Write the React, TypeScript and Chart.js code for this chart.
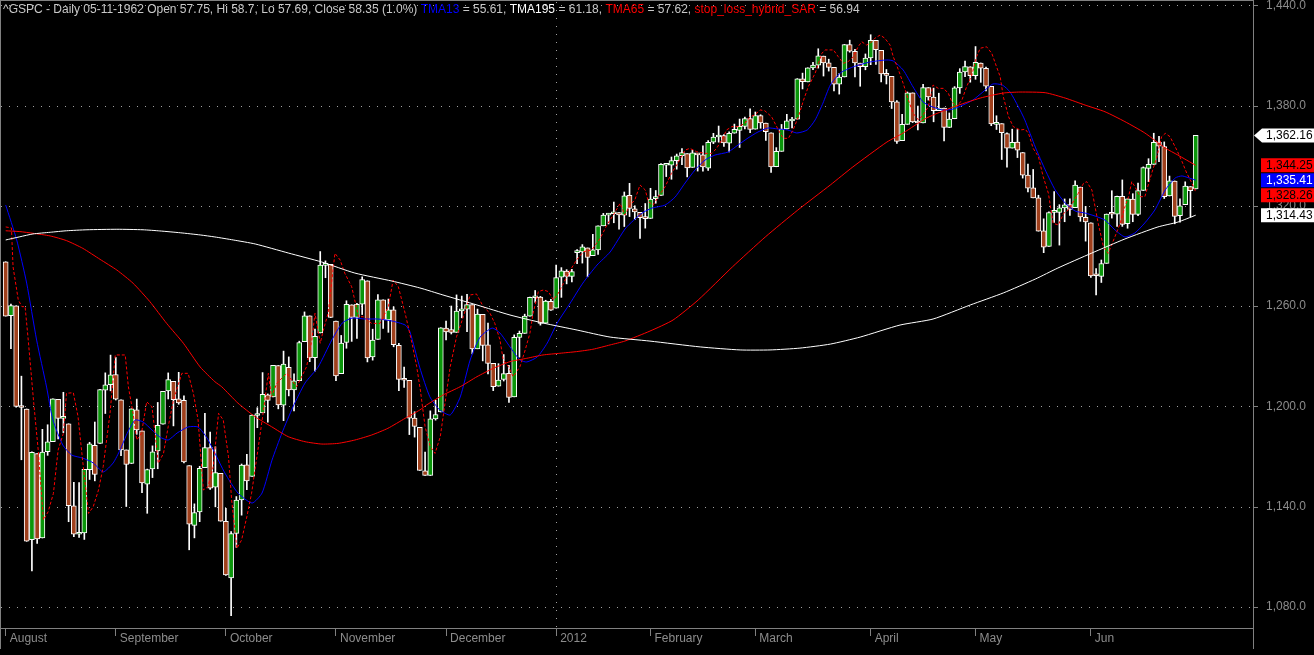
import React, { useEffect, useRef } from 'react';
import { Chart, registerables } from 'chart.js';

Chart.register(...registerables);

// ---------- DATA (bar index 0 = first visible day) ----------
const OPEN = [1286.56,1254.25,1260.23,1200.28,1198.48,1120.23,1171.77,1121.30,1172.87,1178.86,1204.22,1192.89,1189.62,1140.47,1123.55,1124.36,1162.16,1176.69,1177.91,1209.76,1213.00,
1219.12,1203.90,1173.97,1165.85,1197.98,1185.37,1153.50,1162.59,1173.32,1189.44,1209.21,1214.99,1204.50,1203.63,1164.55,1128.82,1136.91,1163.32,1175.39,1151.74,1159.93,
1131.21,1097.42,1124.03,1144.11,1165.03,1158.15,1194.60,1196.19,1206.96,1205.65,1224.47,1200.75,1223.46,1209.92,1215.39,1238.72,1254.19,1229.17,1243.97,1284.39,1284.96,
1251.00,1219.62,1238.25,1260.82,1253.21,1261.12,1275.18,1229.59,1240.12,1263.85,1251.70,1257.81,1236.56,1216.19,1215.62,1192.98,1187.48,1161.41,1158.67,1192.56,1196.72,
1246.91,1246.03,1244.33,1257.19,1258.14,1260.87,1234.48,1255.05,1236.83,1225.73,1212.12,1216.09,1219.74,1205.72,1241.25,1243.72,1254.00,1265.02,1265.38,1249.75,1262.82,
1258.86,1277.30,1280.93,1277.83,1292.02,1292.48,1294.82,1290.22,1293.65,1308.07,1314.49,1315.29,1315.96,1314.40,1326.28,1318.25,1316.16,1313.53,
1312.45,1324.24,1326.21,1344.32,1344.33,1347.04,1349.97,1351.21,1343.06,1351.30,1350.52,1342.61,1358.06,1361.22,1362.11,1357.53,1363.46,1365.20,1367.56,1372.20,
1365.90,1374.09,1369.59,1363.63,1343.39,1352.65,1365.97,1370.78,1371.92,1395.95,1394.17,1402.55,1404.17,1409.59,1405.52,1402.89,1392.78,1397.11,1416.55,1412.52,1405.39,1403.31,
1408.47,1418.98,1413.09,1398.79,1397.45,1382.18,1358.98,1368.77,1387.61,1370.27,1369.57,1390.78,1385.08,1376.96,1378.53,1366.97,1372.11,1390.64,1400.19,1403.26,
1397.86,1405.50,1402.32,1391.51,1368.79,1369.16,1363.20,1354.58,1358.11,1351.93,1338.36,1330.78,1324.82,1305.05,1295.73,1316.09,1316.02,1318.72,1320.81,1318.90,1331.25,1313.09,
1309.87,1278.29,1277.82,1285.61,1316.15,1314.99,1325.72,1309.40,1324.02,1314.88,1329.19,1342.42,1344.83,1357.94,1355.43,1325.92,1334.90,1314.09,1320.71,1331.52,1330.12];

const HIGH = [1286.58,1261.20,1260.23,1218.11,1198.48,1172.88,1171.77,1186.29,1189.04,1204.49,1204.22,1208.47,1189.62,1154.54,1154.45,1162.35,1178.56,1190.68,1210.28,1220.10,1230.71,
1229.29,1203.90,1173.97,1198.62,1204.40,1185.37,1162.52,1176.41,1202.38,1209.11,1220.06,1214.99,1220.39,1206.30,1164.55,1141.72,1164.19,1195.86,1184.71,1175.87,1159.93,
1138.99,1125.12,1146.07,1165.55,1171.40,1194.91,1199.24,1220.25,1207.46,1224.61,1224.47,1233.10,1229.64,1219.53,1239.03,1256.55,1254.19,1246.28,1292.66,1287.08,1284.96,
1251.00,1242.48,1263.21,1260.82,1261.70,1277.55,1275.18,1246.22,1266.98,1263.85,1264.25,1259.61,1237.73,1223.51,1215.62,1196.81,1187.48,1172.66,1197.35,1203.67,1247.11,
1251.09,1260.08,1266.73,1266.03,1267.06,1260.87,1258.25,1255.05,1249.86,1225.73,1225.60,1231.04,1224.57,1242.82,1245.09,1255.22,1265.42,1269.37,1265.85,1263.54,1264.12,
1284.62,1283.05,1281.84,1281.99,1293.80,1296.82,1294.82,1303.00,1308.11,1315.49,1315.38,1322.28,1315.96,1328.30,1333.47,1320.06,1316.16,1321.41,
1330.52,1329.19,1345.34,1344.36,1349.24,1351.00,1354.32,1351.21,1353.35,1351.30,1355.87,1359.02,1363.40,1367.76,1362.70,1364.24,1368.92,1371.94,1373.09,1378.04,
1376.17,1374.53,1369.59,1363.63,1354.85,1368.72,1374.76,1373.04,1396.13,1399.42,1402.63,1405.88,1414.00,1409.59,1407.75,1402.89,1399.18,1416.58,1419.15,1413.65,1405.39,1410.89,
1422.38,1419.00,1413.09,1401.60,1397.45,1383.01,1374.71,1388.13,1387.61,1379.66,1392.76,1390.78,1390.46,1387.40,1378.53,1375.57,1391.37,1402.09,1406.64,1403.26,
1415.32,1405.50,1403.07,1391.51,1373.91,1369.16,1363.73,1365.88,1365.66,1351.93,1344.94,1341.78,1326.36,1312.24,1316.39,1328.49,1320.71,1324.14,1324.20,1334.93,1331.25,1319.74,
1309.87,1282.55,1287.62,1315.13,1329.05,1325.81,1335.52,1324.31,1327.28,1333.68,1343.32,1348.22,1363.46,1361.57,1358.27,1337.82,1334.90,1324.24,1334.40,1331.52,1362.17];

const LOW = [1254.03,1234.56,1199.54,1168.09,1119.28,1101.54,1118.01,1121.30,1170.74,1178.86,1180.53,1184.36,1131.03,1122.05,1121.70,1120.43,1156.30,1155.47,1177.91,1195.77,1209.35,
1203.85,1170.56,1140.13,1165.85,1183.34,1148.37,1136.07,1157.44,1162.73,1189.44,1204.46,1188.36,1201.29,1166.21,1114.22,1121.36,1131.07,1163.32,1150.40,1139.93,1131.34,
1098.92,1074.77,1115.68,1134.95,1150.26,1158.15,1187.30,1196.19,1190.58,1205.65,1198.55,1191.48,1206.31,1197.34,1215.39,1238.72,1226.79,1221.06,1243.97,1277.01,1253.16,
1215.42,1219.62,1234.81,1238.92,1240.75,1254.99,1226.64,1227.70,1240.12,1246.68,1244.34,1235.67,1209.43,1211.36,1183.16,1181.65,1161.79,1158.66,1158.67,1191.80,1196.72,
1239.73,1243.35,1244.33,1253.03,1244.80,1231.47,1234.48,1227.25,1219.43,1209.47,1212.12,1215.20,1202.37,1205.72,1229.51,1243.72,1254.00,1262.30,1248.64,1249.75,1257.46,
1258.86,1265.26,1273.34,1274.55,1285.41,1285.77,1277.58,1290.22,1290.99,1308.07,1309.17,1309.89,1306.06,1307.65,1313.60,1311.72,1300.49,1306.69,
1312.45,1321.57,1326.21,1337.52,1335.92,1341.95,1344.63,1337.35,1343.06,1340.83,1340.80,1341.22,1357.24,1358.11,1355.53,1352.28,1363.46,1354.92,1365.97,1363.81,
1365.90,1366.42,1359.13,1340.03,1343.39,1352.65,1365.97,1366.69,1371.92,1389.97,1394.17,1401.47,1402.43,1397.68,1400.64,1388.73,1386.87,1397.11,1411.95,1397.20,1391.56,1401.42,
1404.46,1404.62,1394.09,1392.92,1378.24,1357.38,1358.98,1368.77,1369.85,1365.38,1369.57,1383.29,1370.30,1376.96,1358.79,1366.82,1372.11,1387.28,1397.31,1394.00,
1395.73,1393.92,1388.71,1367.96,1365.69,1347.75,1343.13,1354.58,1348.89,1336.61,1328.41,1324.79,1304.86,1291.98,1295.73,1310.04,1296.53,1310.50,1314.23,1318.90,1310.76,1298.90,
1277.25,1266.74,1274.16,1285.61,1312.68,1307.77,1307.73,1306.62,1310.51,1314.14,1329.19,1334.46,1344.83,1346.45,1324.41,1325.92,1309.27,1310.30,1320.71,1313.29,1330.12];

const CLOSE = [1254.05,1260.34,1200.07,1199.38,1119.46,1172.53,1120.76,1172.64,1178.81,1204.49,1192.76,1193.89,1140.65,1123.53,1123.82,1162.35,1177.60,1159.27,1210.08,1212.92,1218.89,
1204.42,1173.97,1165.24,1198.62,1185.90,1154.23,1162.27,1172.87,1188.68,1209.11,1216.01,1204.09,1202.09,1166.76,1129.56,1136.43,1162.95,1175.38,1151.06,1160.40,1131.42,
1099.23,1123.95,1144.03,1164.97,1155.46,1194.89,1195.54,1207.25,1203.66,1224.58,1200.86,1225.38,1209.88,1215.39,1238.25,1254.19,1229.05,1242.00,1284.59,1285.09,1253.30,
1218.28,1237.90,1261.15,1253.23,1261.12,1275.92,1229.10,1239.70,1263.85,1251.78,1257.81,1236.91,1216.13,1215.65,1192.98,1188.04,1161.79,1158.67,1192.55,1195.19,1246.96,
1244.58,1244.28,1257.08,1258.47,1261.01,1234.35,1255.19,1236.47,1225.73,1211.82,1215.75,1219.66,1205.35,1241.30,1243.72,1254.00,1265.33,1265.43,1249.64,1263.02,1257.60,
1277.06,1281.06,1277.81,1280.70,1292.48,1295.50,1289.09,1293.67,1308.04,1314.50,1315.38,1316.00,1314.65,1326.06,1318.43,1316.33,1313.01,1312.41,
1324.09,1325.54,1344.90,1344.33,1347.05,1349.96,1351.95,1342.64,1351.77,1350.50,1343.23,1358.04,1361.23,1362.21,1357.66,1363.46,1365.74,1367.59,1372.18,1365.68,
1374.09,1369.63,1364.33,1343.36,1352.63,1365.91,1370.87,1371.09,1395.95,1394.28,1402.60,1404.17,1409.75,1405.52,1402.89,1392.78,1397.11,1416.51,1412.52,1405.54,1403.28,1408.47,
1419.04,1413.38,1398.96,1398.08,1382.20,1358.59,1368.71,1387.57,1370.26,1369.57,1390.78,1385.14,1376.92,1378.53,1366.94,1371.97,1390.69,1399.98,1403.36,1397.91,
1405.82,1402.31,1391.57,1369.10,1369.58,1363.72,1354.58,1357.99,1353.39,1338.35,1330.66,1324.80,1304.86,1295.22,1315.99,1316.63,1318.86,1320.68,1317.82,1332.42,1313.32,1310.33,
1278.04,1278.18,1285.50,1315.13,1314.99,1325.66,1308.93,1324.18,1314.88,1329.10,1342.84,1344.78,1357.98,1355.69,1325.51,1335.02,1313.72,1319.99,1331.85,1329.04,1362.16];

const MONTH_TICKS = [0, 21, 42, 63, 84, 105, 123, 143, 165, 185, 207];
const MONTH_LABELS = ['August', 'September', 'October', 'November', 'December', '2012', 'February', 'March', 'April', 'May', 'Jun'];
const YEAR_BREAK = 105;
const PRICE_TICKS = [1080, 1140, 1200, 1260, 1320, 1380, 1440];

const TMA13 = [[0,1320.5],[2.1,1299.6],[4,1273.8],[5.9,1239.7],[7.8,1211.6],[9,1191.9],[10.9,1176.9],[12.6,1170.9],[14.7,1169.1],[16.7,1166.2],[18.6,1160.8],[20.5,1166.2],[21.8,1173.9],[23.3,1184.7],[24.7,1191.9],[26.2,1190.7],[27.9,1185.9],[29.4,1181.7],[31,1179.9],[32.7,1184.1],[34.8,1187.7],[36.7,1187.7],[38.4,1181.1],[39.9,1172.1],[41.8,1160.2],[44.3,1148.2],[47,1142.2],[48.9,1148.2],[50.8,1167.9],[52.7,1184.1],[54.8,1199.7],[57.1,1214],[59.6,1223.6],[62.2,1239.7],[64.2,1249.9],[66.1,1252.9],[68.5,1252.3],[71,1252.3],[73.7,1251.1],[76.2,1248.7],[77.1,1244.7],[79,1223.1],[80.9,1205.8],[82.8,1197.9],[84.8,1194.9],[86.7,1205.6],[88.6,1227.8],[90.5,1241.5],[92.8,1246.9],[94.3,1243.9],[96.2,1235.6],[98.1,1227.8],[99.4,1226.6],[101.4,1229.6],[103.3,1237.9],[105.2,1249.9],[107.7,1261.9],[110.1,1273.8],[112.8,1284.6],[115.3,1292.4],[118.3,1306.8],[121.4,1315.7],[123.3,1318.7],[125.8,1320.5],[127.7,1325.3],[129.6,1333.7],[131.5,1341.5],[133.4,1347.4],[135.3,1350.4],[137.8,1352.2],[139.7,1356.4],[141.6,1360.6],[143.5,1364.2],[145.4,1366.6],[147.3,1366],[149.2,1365.4],[150.9,1363.6],[152.9,1365.4],[154.4,1371.4],[155.9,1381.5],[157.3,1392.3],[159.2,1399.5],[161.6,1403.1],[164.9,1406.1],[168.1,1407.3],[169.3,1406.7],[171.2,1401.3],[173.1,1391.1],[175,1382.1],[176.9,1379.1],[178.8,1377.3],[180.7,1377.9],[182.6,1380.3],[184.5,1383.3],[186.4,1388.1],[188.3,1392.9],[190.1,1392.3],[191.6,1388.1],[193.5,1377.3],[194.4,1371.4],[196.4,1355.2],[198.3,1341.5],[200.2,1329.5],[202.1,1321.7],[204,1316.9],[205.9,1315.7],[207.8,1313.9],[209.7,1311.5],[211.6,1305.6],[213.5,1301.4],[215.4,1303.8],[217.3,1309.8],[219.2,1317.5],[221.2,1329.5],[223.1,1336.7],[224.4,1337.9],[226.3,1336.1],[227,1335.41]];

const TMA195 = [[0,1299.6],[2.7,1301.5],[5.2,1303.2],[8.5,1304.2],[11.6,1305.1],[15.5,1305.7],[21.2,1306],[26.2,1305.7],[29.4,1305],[33.3,1303.9],[37.1,1302.6],[39.9,1301.4],[43.4,1299.6],[47.6,1297.2],[53.9,1291.8],[60.3,1286.4],[66.6,1279.8],[73.7,1275],[79,1270.9],[83.4,1266.7],[89.9,1260.7],[96.2,1254.7],[102.5,1249.9],[109,1245.7],[115.3,1241.5],[122.9,1239.1],[132.5,1235.6],[140.1,1233.8],[145.8,1233.8],[151.5,1234.9],[157.3,1237.3],[163,1241.5],[170.6,1248.7],[176.9,1252.3],[184,1260.7],[190.3,1267.9],[196.4,1276.2],[200.7,1282.8],[207.2,1291.8],[213.5,1300.2],[219.8,1307.4],[223.6,1310.3],[227,1314.43]];

const TMA65 = [[0,1305.1],[2.7,1304.6],[5.2,1303.6],[8.5,1302],[11.6,1299.2],[14.7,1294.6],[18,1288],[21.2,1281.6],[24.3,1273.7],[27.5,1262.7],[30.7,1249.7],[33.9,1237.8],[37.1,1223.6],[39.9,1214.8],[41.2,1211.8],[44.3,1202],[47.6,1193.8],[50.7,1187.9],[53.9,1181.9],[57.1,1178.9],[60.3,1177.5],[63.4,1177.9],[66.6,1179.9],[69.8,1182.9],[72.9,1186.9],[76.2,1192.9],[79,1197.9],[80.3,1200.9],[83.4,1206.8],[86.7,1211.8],[89.9,1217.8],[93,1222.8],[96.2,1226.8],[99.4,1228.8],[102.5,1230.8],[105.7,1231.8],[108.9,1232.8],[112,1234.2],[115.3,1236.8],[118.1,1239.1],[122.9,1245.1],[127.3,1251.7],[132.1,1263.7],[138.6,1283.4],[144.9,1301.4],[151.1,1317.5],[157.3,1332.5],[161.6,1343.3],[168.1,1358.2],[171.2,1363.6],[175.7,1372.6],[180.7,1379.1],[185.9,1384.5],[190.3,1387.5],[193.5,1388.1],[198.3,1387.7],[202.1,1384.5],[205.9,1380.3],[209.7,1376.3],[213.5,1370.4],[217.3,1363.6],[221.2,1354.6],[223.6,1350.4],[227,1344.25]];

const SAR = [[0,1307.4],[1.1,1306.8],[1.4,1283.6],[2.4,1263.7],[3.1,1259.7],[3.7,1259.7],[4.3,1239.7],[5.3,1203.8],[6.2,1173.9],[7.2,1132.1],[8.1,1137],[9.1,1148],[10,1173.9],[11,1183.9],[11.6,1207.9],[12.9,1208.2],[13.8,1193.9],[14.8,1164],[15.8,1136],[16.7,1140],[17.7,1150],[18.6,1164],[19.9,1195.9],[20.9,1230.8],[22.8,1230.8],[23.4,1211.8],[24.3,1195.9],[25,1179.9],[25.9,1183.9],[26.9,1202.8],[27.9,1199.8],[28.5,1183.9],[29.1,1166],[30.1,1171.9],[31,1187.9],[32,1203.8],[33.6,1219.8],[34.8,1219.8],[35.8,1207.9],[36.7,1191.9],[37.7,1150],[38.6,1152],[39.6,1164],[40.6,1195.9],[41.5,1191.9],[42.5,1169.9],[43.1,1144],[44.1,1115.1],[45,1120.1],[46,1134],[46.9,1148],[48.2,1175.9],[49.1,1195.9],[50.1,1219.8],[50.7,1205.8],[51.7,1213.8],[53.6,1219.8],[55.5,1211.8],[57.4,1223.8],[58.4,1239.7],[59,1255.7],[60,1237.8],[60.6,1245.7],[61.5,1255.7],[62.8,1291.6],[63.8,1287.6],[64.7,1279.6],[66,1271.6],[67.3,1253.7],[68.2,1253.7],[69.8,1249.7],[71.4,1249.7],[73,1259.7],[73.9,1275.6],[74.9,1271.6],[76.2,1255.7],[77.5,1237.8],[78.4,1223.8],[79.1,1209.8],[80,1187.9],[81,1175.9],[81.9,1171.9],[82.9,1181.9],[83.8,1201.9],[84.8,1223.8],[86,1241.7],[87.3,1253.7],[88.6,1266.7],[89.8,1267.3],[91.1,1259.7],[92.4,1255.7],[93.3,1249.7],[94.3,1239.7],[94.9,1227.8],[95.9,1223.8],[96.8,1217.8],[98.1,1223.8],[99.1,1233.8],[100,1243.8],[100.6,1255.7],[101.6,1268.7],[102.6,1269.7],[103.5,1268.7],[104.5,1263.7],[105.4,1267.7],[106.4,1273.7],[107.7,1281.6],[108.9,1287.6],[110.2,1292.6],[111.8,1293.6],[113.4,1300.6],[114.7,1308.6],[115.9,1314.5],[117.2,1321.5],[118.1,1314.5],[119.1,1320.5],[120,1323.5],[121,1332.5],[122,1329.5],[122.6,1322.5],[123.5,1320.5],[124.5,1325.5],[125.8,1331.5],[127,1339.5],[128,1344.4],[129.6,1353.4],[130.5,1354.4],[131.8,1352.4],[133.4,1351.4],[134.7,1351.4],[135.6,1354.4],[136.6,1359.4],[137.5,1365.4],[138.5,1367.4],[139.8,1367.4],[141,1369.4],[142,1373.3],[142.9,1374.4],[143.9,1377.4],[144.8,1376.9],[146.1,1373.3],[147.4,1365.4],[148.3,1360.4],[149.3,1360.4],[150.2,1365.4],[151.2,1373.3],[152.2,1383.3],[153.1,1391.3],[154.4,1399.3],[155.7,1411.3],[156.3,1413.3],[157.9,1413.3],[158.8,1409.3],[159.8,1405.3],[160.7,1406.3],[161.7,1409.3],[162.6,1415.2],[163.3,1418.2],[164.2,1416.2],[164.9,1417.3],[165.8,1420.3],[166.8,1422.2],[167.7,1420.3],[168.7,1416.2],[169.3,1409.3],[170.3,1401.3],[171.2,1393.3],[172.2,1383.3],[173.1,1375.4],[174.1,1371.4],[175,1374.4],[176,1379.3],[176.9,1392.3],[177.9,1390.3],[178.9,1390.3],[179.8,1387.4],[180.5,1382.3],[181.4,1379.3],[182.4,1383.3],[183.3,1391.3],[184.3,1398.3],[185.2,1409.3],[185.9,1414.3],[187.1,1415.2],[188.1,1411.3],[189,1403.3],[189.7,1397.3],[190.3,1385.3],[191.3,1373.3],[192.2,1367.4],[193.5,1365.4],[194.5,1365.8],[195.1,1363.4],[196,1354.4],[197,1349.4],[197.9,1337.5],[198.9,1327.5],[199.8,1309.6],[200.8,1308.6],[201.8,1315.5],[202.7,1317.5],[204.6,1327.5],[205.6,1333.5],[206.2,1334.5],[207.2,1329.5],[207.8,1319.5],[208.4,1309.6],[209.4,1295.6],[210.3,1291.6],[211.6,1301.6],[212.6,1309.6],[213.5,1319.5],[214.2,1325.5],[214.8,1334.5],[215.4,1331.5],[216.4,1325.5],[217.3,1325.5],[218.6,1339.5],[219.6,1349.4],[220.5,1361.4],[221.2,1363.4],[222.1,1361.4],[223.4,1353.4],[224.4,1346.4],[225.3,1339.5],[226.3,1333.5],[227,1328.26]];

const TITLE_PARTS = [
  ['^GSPC - Daily 05-11-1962 Open 57.75, Hi 58.7, Lo 57.69, Close 58.35 (1.0%) ', '#c8c8c8'],
  ['TMA13', '#0000ff'],
  [' = 55.61, ', '#c8c8c8'],
  ['TMA195', '#ffffff'],
  [' = 61.18, ', '#c8c8c8'],
  ['TMA65', '#ff0000'],
  [' = 57.62, ', '#c8c8c8'],
  ['stop_loss_hybrid_SAR', '#ff0000'],
  [' = 56.94', '#c8c8c8'],
];

// ---------- LAYOUT / STYLE ----------
const W = 1314, H = 655;
const PLOT_RIGHT = 1253, PLOT_BOTTOM = 628;
const X_MIN = -1.087, X_MAX = 237.93;
const Y_MIN = 1067.44, Y_MAX = 1443.17;
const FONT = '"Liberation Sans", Arial, sans-serif';
const GREEN = '#0a960a';
const BROWN = '#a0401c';
const AXIS_GRAY = '#808080';
const LABEL_GRAY = '#8c8c8c';
const DOT_GRAY = '#a0a0a0';

function fmt(v, d) {
  const s = v.toFixed(d);
  const [i, f] = s.split('.');
  return i.replace(/\B(?=(\d{3})+(?!\d))/g, ',') + (f !== undefined ? '.' + f : '');
}

const decor = {
  id: 'decor',
  beforeDatasetsDraw(chart) {
    const ctx = chart.ctx;
    const ys = chart.scales.y, xs = chart.scales.x;
    ctx.save();
    ctx.fillStyle = DOT_GRAY;
    for (const v of PRICE_TICKS) {
      const y = Math.round(ys.getPixelForValue(v));
      for (let x = 1; x < PLOT_RIGHT; x += 8) ctx.fillRect(x, y, 1, 1);
    }
    const vx = Math.floor(xs.getPixelForValue(YEAR_BREAK));
    for (let y = 2; y < PLOT_BOTTOM; y += 8) ctx.fillRect(vx, y, 1, 1);
    ctx.restore();
  },
  afterDraw(chart) {
    const ctx = chart.ctx;
    const ys = chart.scales.y, xs = chart.scales.x;
    ctx.save();
    ctx.fillStyle = AXIS_GRAY;
    ctx.fillRect(0, 0, 1, 649);
    ctx.fillRect(PLOT_RIGHT, 0, 1, 649);
    ctx.fillRect(0, 0, PLOT_RIGHT, 1);
    ctx.fillRect(0, PLOT_BOTTOM, PLOT_RIGHT, 1);
    for (const t of MONTH_TICKS) {
      const x = Math.floor(xs.getPixelForValue(t));
      ctx.fillRect(x, PLOT_BOTTOM + 1, 1, 7);
    }
    for (const v of PRICE_TICKS) {
      const y = Math.round(ys.getPixelForValue(v));
      ctx.fillRect(PLOT_RIGHT + 1, y, 4, 1);
    }
    ctx.font = '12px ' + FONT;
    ctx.textBaseline = 'alphabetic';
    let tx = 3;
    for (const [t, c] of TITLE_PARTS) {
      ctx.fillStyle = c;
      ctx.fillText(t, tx, 13);
      tx += ctx.measureText(t).width;
    }
    const last = CLOSE.length - 1;
    const items = [
      { v: CLOSE[last], bg: '#ffffff', fg: '#000000', arrow: true },
      { v: TMA65[TMA65.length - 1][1], bg: '#ff0000', fg: '#000000' },
      { v: TMA13[TMA13.length - 1][1], bg: '#0000ff', fg: '#ffffff' },
      { v: SAR[SAR.length - 1][1], bg: '#ff0000', fg: '#000000' },
      { v: TMA195[TMA195.length - 1][1], bg: '#ffffff', fg: '#000000' },
    ].sort((a, b) => b.v - a.v);
    let prevBottom = -100;
    const bh = 14;
    ctx.textBaseline = 'middle';
    for (const it of items) {
      let top = ys.getPixelForValue(it.v) - bh / 2;
      if (top < prevBottom + 1) top = prevBottom + 1;
      const yc = top + bh / 2;
      ctx.fillStyle = it.bg;
      ctx.beginPath();
      if (it.arrow) {
        ctx.moveTo(PLOT_RIGHT + 1, yc);
        ctx.lineTo(PLOT_RIGHT + 9, top);
        ctx.lineTo(W + 5, top);
        ctx.lineTo(W + 5, top + bh);
        ctx.lineTo(PLOT_RIGHT + 9, top + bh);
      } else {
        ctx.rect(1261, top, W - 1261 + 5, bh);
      }
      ctx.closePath();
      ctx.fill();
      ctx.fillStyle = it.fg;
      ctx.fillText(fmt(it.v, 2), 1266, yc + 0.5);
      prevBottom = top + bh;
    }
    ctx.restore();
  },
};

export default function App() {
  const ref = useRef(null);
  useEffect(() => {
    const up = CLOSE.map((c, i) => c >= OPEN[i]);
    const line = (data, color, extra) => ({
      type: 'line',
      data: data.map(([x, y]) => ({ x, y })),
      borderColor: color,
      borderWidth: 1,
      pointRadius: 0,
      tension: 0.2,
      fill: false,
      order: 0,
      ...extra,
    });
    const chart = new Chart(ref.current, {
      type: 'bar',
      data: {
        datasets: [
          line(TMA195, '#ffffff', { label: 'TMA195' }),
          line(TMA65, '#ff0000', { label: 'TMA65' }),
          line(SAR, '#ff0000', { label: 'stop_loss_hybrid_SAR', borderDash: [3, 2], tension: 0 }),
          line(TMA13, '#0000ff', { label: 'TMA13' }),
          {
            type: 'bar',
            label: 'body',
            data: OPEN.map((o, i) => ({ x: i, y: [o, CLOSE[i]] })),
            backgroundColor: up.map((u) => (u ? GREEN : BROWN)),
            borderColor: '#ffffff',
            borderWidth: 1,
            borderSkipped: false,
            barThickness: 5,
            minBarLength: 2,
            grouped: false,
            order: 1,
          },
          {
            type: 'bar',
            label: 'wick',
            data: LOW.map((l, i) => ({ x: i, y: [l, HIGH[i]] })),
            backgroundColor: '#ffffff',
            borderWidth: 0,
            barThickness: 1,
            grouped: false,
            order: 2,
          },
        ],
      },
      options: {
        responsive: false,
        animation: false,
        devicePixelRatio: 1,
        events: [],
        layout: { padding: 0, autoPadding: false },
        plugins: { legend: { display: false }, tooltip: { enabled: false } },
        scales: {
          x: {
            type: 'linear',
            min: X_MIN,
            max: X_MAX,
            offset: false,
            grid: { display: false, drawTicks: false },
            border: { display: false },
            afterFit: (s) => { s.height = H - PLOT_BOTTOM; s.paddingLeft = 0; s.paddingRight = 0; s.paddingTop = 0; s.paddingBottom = 0; },
            afterBuildTicks: (s) => { s.ticks = MONTH_TICKS.map((v) => ({ value: v })); },
            ticks: {
              autoSkip: false,
              maxRotation: 0,
              align: 'start',
              labelOffset: 4,
              padding: 3,
              color: LABEL_GRAY,
              font: { family: FONT, size: 12 },
              callback: (v) => MONTH_LABELS[MONTH_TICKS.indexOf(v)] ?? '',
            },
          },
          y: {
            type: 'linear',
            position: 'right',
            min: Y_MIN,
            max: Y_MAX,
            beginAtZero: false,
            grid: { display: false, drawTicks: false },
            border: { display: false },
            afterFit: (s) => { s.width = W - PLOT_RIGHT; s.paddingTop = 0; s.paddingBottom = 0; s.paddingLeft = 0; s.paddingRight = 0; },
            afterBuildTicks: (s) => { s.ticks = PRICE_TICKS.map((v) => ({ value: v })); },
            ticks: {
              padding: 13,
              color: LABEL_GRAY,
              font: { family: FONT, size: 12 },
              callback: (v) => fmt(v, 1),
            },
          },
        },
      },
      plugins: [decor],
    });
    return () => chart.destroy();
  }, []);
  return (
    <div style={{ position: 'fixed', left: 0, top: 0, width: W, height: H, background: '#000', overflow: 'hidden' }}>
      <canvas ref={ref} width={W} height={H} style={{ display: 'block', background: '#000' }} />
    </div>
  );
}
